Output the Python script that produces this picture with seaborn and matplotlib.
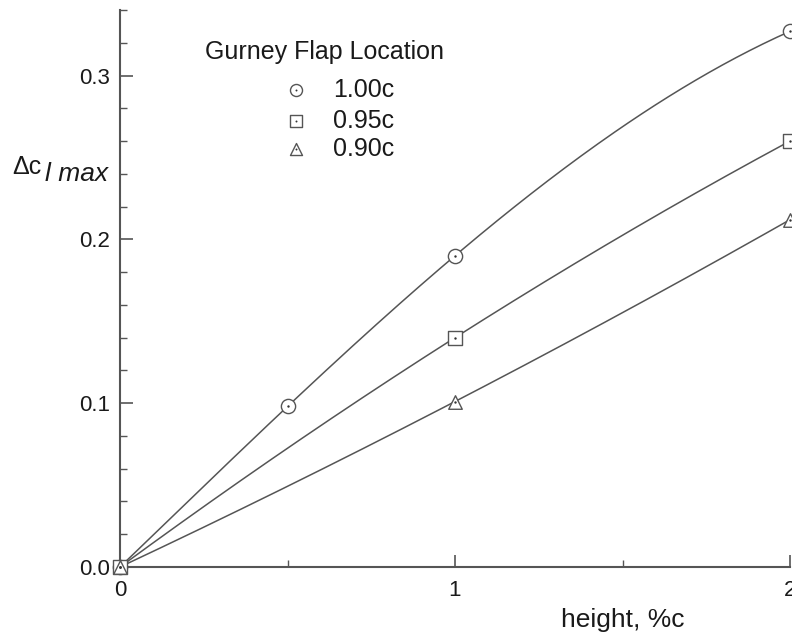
import numpy as np
import pandas as pd
import matplotlib
matplotlib.use("Agg")
import matplotlib.pyplot as plt
import seaborn as sns
from matplotlib.ticker import MultipleLocator

sns.set_theme(style="white")
plt.rcParams['font.family'] = ['Liberation Sans', 'DejaVu Sans']

# ---- data ----
x_100 = [0.0, 0.5, 1.0, 2.0]
y_100 = [0.0, 0.098, 0.190, 0.327]
x_095 = [0.0, 1.0, 2.0]
y_095 = [0.0, 0.140, 0.260]
x_090 = [0.0, 1.0, 2.0]
y_090 = [0.0, 0.101, 0.212]
labels = ["1.00c", "0.95c", "0.90c"]
markers = ["o", "s", "^"]
xticks = [0, 1, 2]
yticks = [0.0, 0.1, 0.2, 0.3]

series = [(x_100, y_100), (x_095, y_095), (x_090, y_090)]

fig = plt.figure(figsize=(7.92, 6.41), dpi=100)
ax = fig.add_axes([120/792, (641-567)/641, (790-120)/792, (567-10)/641])

lc = "#555555"
tc = "#1a1a1a"
for (xs, ys), lab, mk in zip(series, labels, markers):
    coef = np.polyfit(xs, ys, len(xs) - 1)
    xd = np.linspace(min(xs), max(xs), 200)
    curve = pd.DataFrame({"x": xd, "y": np.polyval(coef, xd)})
    sns.lineplot(data=curve, x="x", y="y", ax=ax, color=lc, linewidth=1.1, sort=False)
    pts = pd.DataFrame({"x": xs, "y": ys})
    sz = 105 if mk != "^" else 95
    sns.scatterplot(data=pts, x="x", y="y", ax=ax, marker=mk, s=sz,
                    facecolor="white", edgecolor=lc, linewidth=1.0,
                    zorder=3, clip_on=False)
    sns.scatterplot(data=pts, x="x", y="y", ax=ax, marker="o", s=3,
                    color="#333333", linewidth=0, zorder=4, clip_on=False)

ax.set_xlim(0, 2)
ax.set_ylim(0, 0.34)
ax.set_xticks(xticks)
ax.set_xticklabels([str(t) for t in xticks])
ax.set_yticks(yticks)
ax.set_yticklabels([f"{t:.1f}" for t in yticks])
ax.xaxis.set_minor_locator(MultipleLocator(0.5))
ax.yaxis.set_minor_locator(MultipleLocator(0.02))
ax.tick_params(axis="both", which="major", direction="in", length=9, width=1.2, color="#555555",
               labelsize=16, labelcolor=tc, left=True, bottom=True)
ax.tick_params(axis="x", which="major", pad=9)
ax.tick_params(axis="y", which="major", pad=7)
ax.tick_params(which="minor", direction="in", length=5, width=1.0, color="#555555",
               left=True, bottom=True)
for s in ["top", "right"]:
    ax.spines[s].set_visible(False)
for s in ["left", "bottom"]:
    ax.spines[s].set_color("#555555")
    ax.spines[s].set_linewidth(1.5)

# x label
fig.text(623/792, 1 - 620/641, "height, %c", fontsize=19, color=tc,
         ha="center", va="center")
# y label
fig.text(12/792, 1 - 167/641, "Δc", fontsize=18, color=tc, ha="left", va="center")
fig.text(45/792, 1 - 174/641, "l max", fontsize=19, style="italic", color=tc,
         ha="left", va="center")

# legend (manual)
fig.text(205/792, 1 - 52/641, "Gurney Flap Location", fontsize=18, color=tc,
         ha="left", va="center")
leg_y = [90, 121, 149]
for yy, lab, mk in zip(leg_y, labels, markers):
    pt = pd.DataFrame({"x": [296/792], "y": [1 - yy/641]})
    sns.scatterplot(data=pt, x="x", y="y", ax=ax, marker=mk, s=75,
                    facecolor="white", edgecolor=lc, linewidth=1.0,
                    transform=fig.transFigure, clip_on=False, zorder=5)
    sns.scatterplot(data=pt, x="x", y="y", ax=ax, marker="o", s=2,
                    color="#333333", linewidth=0, transform=fig.transFigure,
                    clip_on=False, zorder=6)
    fig.text(333/792, 1 - yy/641, lab, fontsize=18, color=tc,
             ha="left", va="center")
ax.set_xlabel("")
ax.set_ylabel("")
ax.set_xlim(0, 2)
ax.set_ylim(0, 0.34)

fig.savefig("out.png", dpi=100)
